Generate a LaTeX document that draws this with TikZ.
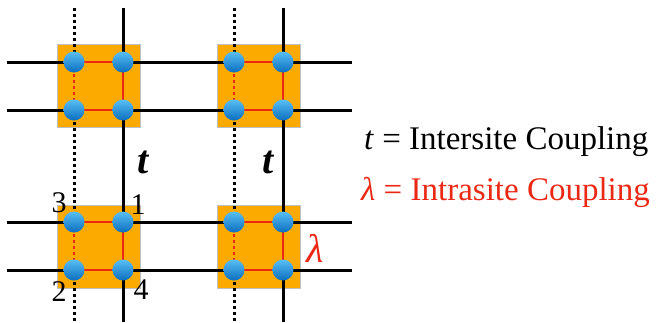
\documentclass[tikz,border=0pt]{standalone}
\usepackage{fontspec}
\setmainfont{Liberation Serif}
\definecolor{sqorange}{RGB}{252,170,0}
\definecolor{cred}{RGB}{235,40,20}
\definecolor{ballhi}{RGB}{90,190,245}
\definecolor{balllo}{RGB}{10,110,190}
\begin{document}
\begin{tikzpicture}[x=1pt,y=-1pt,
  site/.style={circle,minimum size=21pt,inner sep=0pt,top color=ballhi,bottom color=balllo,draw=none},
  plaq/.style={fill=sqorange,draw=black!25,line width=0.5pt},
  hop/.style={black,line width=3pt},
  hopd/.style={black,line width=3pt,dash pattern=on 3pt off 3pt},
  intra/.style={cred,line width=2.4pt},
  intrad/.style={cred,line width=2.4pt,dash pattern=on 3pt off 3pt},
  lab/.style={font=\fontsize{30}{30}\selectfont,inner sep=0pt},
  leg/.style={font=\fontsize{33}{33}\selectfont,inner sep=0pt,anchor=west}]
\useasboundingbox (0,0) rectangle (663,322);
% plaquettes
\foreach \x/\y in {57/44,217/44,57/205,217/205}
  \fill[plaq] (\x,\y) rectangle ++(83,83);
% free ends
\foreach \r/\yy in {a/62,b/110,c/222,d/270}{
  \coordinate (L\r) at (7,\yy);
  \coordinate (R\r) at (352,\yy);}
\foreach \c/\xx in {p/74,q/123,r/234,s/283}{
  \coordinate (T\c) at (\xx,8);
  \coordinate (B\c) at (\xx,322);}
% site positions
\foreach \g/\xa/\xb/\ya/\yb in {A/74/123/62/110,B/234/283/62/110,C/74/123/222/270,D/234/283/222/270}{
  \coordinate (\g3) at (\xa,\ya);
  \coordinate (\g1) at (\xb,\ya);
  \coordinate (\g2) at (\xa,\yb);
  \coordinate (\g4) at (\xb,\yb);
}
% black intersite bonds
\draw[hop] (La) -- (A3);
\draw[hop] (A1) -- (B3);
\draw[hop] (B1) -- (Ra);
\draw[hop] (Lb) -- (A2);
\draw[hop] (A4) -- (B2);
\draw[hop] (B4) -- (Rb);
\draw[hop] (Lc) -- (C3);
\draw[hop] (C1) -- (D3);
\draw[hop] (D1) -- (Rc);
\draw[hop] (Ld) -- (C2);
\draw[hop] (C4) -- (D2);
\draw[hop] (D4) -- (Rd);
\draw[hop] (Tq) -- (A1);
\draw[hop] (A4) -- (C1);
\draw[hop] (C4) -- (Bq);
\draw[hop] (Ts) -- (B1);
\draw[hop] (B4) -- (D1);
\draw[hop] (D4) -- (Bs);
\draw[hopd] (Tp) -- (A3);
\draw[hopd] (A2) -- (C3);
\draw[hopd] (C2) -- (Bp);
\draw[hopd] (Tr) -- (B3);
\draw[hopd] (B2) -- (D3);
\draw[hopd] (D2) -- (Br);
% intrasite bonds and sites
\foreach \g in {A,B,C,D}{
  \draw[intra] (\g3) -- (\g1);
  \draw[intra] (\g2) -- (\g4);
  \draw[intra] (\g1) -- (\g4);
  \draw[intrad] (\g3) -- (\g2);
  \node[site] (s\g3) at (\g3) {};
  \node[site] (s\g1) at (\g1) {};
  \node[site] (s\g2) at (\g2) {};
  \node[site] (s\g4) at (\g4) {};
}
% site numbers
\node[lab] (n3) at (59,203) {3};
\node[lab] (n1) at (138,205) {1};
\node[lab] (n2) at (59,292) {2};
\node[lab] (n4) at (141,290) {4};
% coupling labels
\node[inner sep=0pt,font=\fontsize{40}{40}\selectfont\bfseries\itshape] (t1) at (143,162) {t};
\node[inner sep=0pt,font=\fontsize{40}{40}\selectfont\bfseries\itshape] (t2) at (268,162) {t};
\node[inner sep=0pt,text=cred,font=\fontsize{40}{40}\selectfont\itshape] (lam) at (315,248) {λ};
% legend
\node[leg] (leg1) at (364,142) {\textit{t} = Intersite Coupling};
\node[leg,text=cred] (leg2) at (361,192) {\textit{λ} = Intrasite Coupling};
\end{tikzpicture}
\end{document}
